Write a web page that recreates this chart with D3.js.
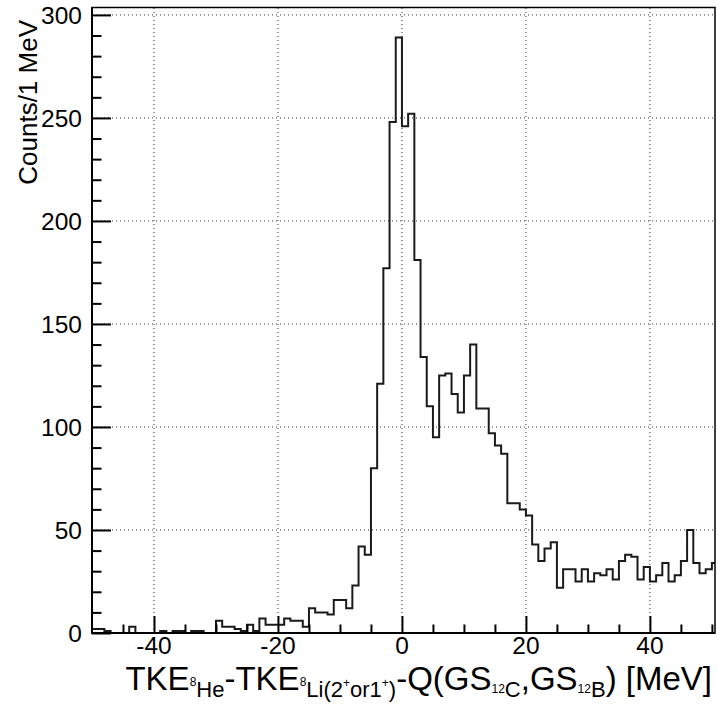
<!DOCTYPE html>
<html>
<head>
<meta charset="utf-8">
<script src="https://cdn.jsdelivr.net/npm/d3@7"></script>
<style>
  html, body { margin: 0; padding: 0; background: #fff; }
  svg { display: block; }
  text { font-family: "Liberation Sans", Arial, Helvetica, sans-serif; fill: #000; }
</style>
</head>
<body>
<svg id="chart" width="717" height="707"></svg>
<script>
// ---- data: 1 MeV bins, lower edges from -50 to 50 ----
const binStart = -50;
const binWidth = 1;
const counts = [
  2, 2, 1, 0, 0, 0, 3, 0, 0, 0,          // -50 .. -41
  0, 1, 0, 1, 1, 0, 1, 1, 0, 0,          // -40 .. -31
  6, 3, 3, 2, 1, 4, 1, 7, 4, 4,          // -30 .. -21
  4, 7, 6, 6, 3, 12, 10, 10, 9, 16,      // -20 .. -11
  16, 12, 23, 42, 38, 80, 121, 177, 248, 289, // -10 .. -1
  246, 252, 181, 134, 110, 95, 125, 126, 116, 107, // 0 .. 9
  125, 140, 109, 109, 97, 91, 87, 63, 63, 60,      // 10 .. 19
  57, 43, 35, 41, 44, 22, 31, 31, 25, 31,          // 20 .. 29
  25, 29, 28, 31, 26, 35, 38, 37, 26, 32,          // 30 .. 39
  25, 28, 34, 25, 28, 35, 50, 34, 29, 31,          // 40 .. 49
  34                                               // 50
];
const xMajorTicks = [-40, -20, 0, 20, 40];
const xMinorTicks = d3.range(-50, 51, 5);
const yMajorTicks = [0, 50, 100, 150, 200, 250, 300];
const yMinorTicks = d3.range(0, 301, 10);
const yTitle = "Counts/1 MeV";

// ---- layout ----
const L = 92, R = 715, T = 7.5, B = 633;
const svg = d3.select("#chart");

const x = d3.scaleLinear().domain([-50, 50.5]).range([L, R]);
const y = d3.scaleLinear().domain([0, 303.6]).range([B, T]);

// grid
const grid = svg.append("g").attr("stroke", "#333").attr("stroke-width", 1)
  .attr("stroke-dasharray", "1,3");
grid.selectAll("line.v").data(xMajorTicks).join("line")
  .attr("x1", d => x(d)).attr("x2", d => x(d)).attr("y1", B).attr("y2", T);
grid.selectAll("line.h").data(yMajorTicks.filter(d => d > 0)).join("line")
  .attr("x1", L).attr("x2", R).attr("y1", d => y(d)).attr("y2", d => y(d));

// histogram path
const pts = [];
counts.forEach((c, i) => {
  const x0 = binStart + i * binWidth;
  pts.push([x0, c]);
});
pts.push([binStart + counts.length * binWidth, counts[counts.length - 1]]);
const line = d3.line().x(d => x(d[0])).y(d => y(d[1])).curve(d3.curveStepAfter);
svg.append("defs").append("clipPath").attr("id", "clip")
  .append("rect").attr("x", L).attr("y", T).attr("width", R - L).attr("height", B - T);
svg.append("path").attr("d", line(pts)).attr("fill", "none")
  .attr("stroke", "#1a1a1a").attr("stroke-width", 2).attr("clip-path", "url(#clip)");

// frame
svg.append("rect").attr("x", L).attr("y", T).attr("width", R - L).attr("height", B - T)
  .attr("fill", "none").attr("stroke", "#000").attr("stroke-width", 1.5);
svg.append("line").attr("x1", L).attr("x2", L).attr("y1", T).attr("y2", B + 1)
  .attr("stroke", "#000").attr("stroke-width", 2);
svg.append("line").attr("x1", L - 1).attr("x2", R).attr("y1", B).attr("y2", B)
  .attr("stroke", "#000").attr("stroke-width", 2);

// y axis ticks (inside)
const yAxisMajor = d3.axisRight(y).tickValues(yMajorTicks).tickSize(19).tickFormat("");
const yAxisMinor = d3.axisRight(y).tickValues(yMinorTicks.filter(d => d % 50 !== 0)).tickSize(9.5).tickFormat("");
[yAxisMajor, yAxisMinor].forEach(ax => {
  const g = svg.append("g").attr("transform", `translate(${L},0)`).call(ax);
  g.select(".domain").remove();
  g.selectAll("line").attr("stroke", "#000").attr("stroke-width", 2);
});
svg.append("g").selectAll("text").data(yMajorTicks).join("text")
  .attr("x", 82).attr("y", d => y(d)).attr("dy", "0.36em")
  .attr("text-anchor", "end").attr("font-size", 24.5).text(d => d);

// x axis ticks (inside, upward)
const xAxisMajor = d3.axisTop(x).tickValues(xMajorTicks).tickSize(17).tickFormat("");
const xAxisMinor = d3.axisTop(x).tickValues(xMinorTicks.filter(d => d % 20 !== 0 && d > -50)).tickSize(8.5).tickFormat("");
[xAxisMajor, xAxisMinor].forEach(ax => {
  const g = svg.append("g").attr("transform", `translate(0,${B})`).call(ax);
  g.select(".domain").remove();
  g.selectAll("line").attr("stroke", "#000").attr("stroke-width", 2);
});
svg.append("g").selectAll("text").data(xMajorTicks).join("text")
  .attr("x", d => x(d)).attr("y", 654)
  .attr("text-anchor", "middle").attr("font-size", 24.5).text(d => d);

// y title
svg.append("text").attr("transform", "translate(37,20) rotate(-90)")
  .attr("text-anchor", "end").attr("font-size", 26).text(yTitle);

// x title with sub/superscripts
const xt = svg.append("text").attr("x", 712).attr("y", 690)
  .attr("text-anchor", "end").attr("font-size", 33);
function seg(t, size, shift) {
  const s = xt.append("tspan").text(t);
  if (size) s.attr("font-size", size);
  if (shift) s.attr("dy", shift);
  return s;
}
seg("TKE");
seg("8", 12, -4);
seg("He", 22, 11);
seg("-TKE", null, -7);
seg("8", 12, -4);
seg("Li(2", 22, 11);
seg("+", 12, -10);
seg("or1", 22, 10);
seg("+", 12, -10);
seg(")", 22, 10);
seg("-Q(GS", null, -7);
seg("12", 12, 3);
seg("C", 22, 4);
seg(",GS", null, -7);
seg("12", 12, 3);
seg("B", 22, 4);
seg(") [MeV]", null, -7);
</script>
</body>
</html>
